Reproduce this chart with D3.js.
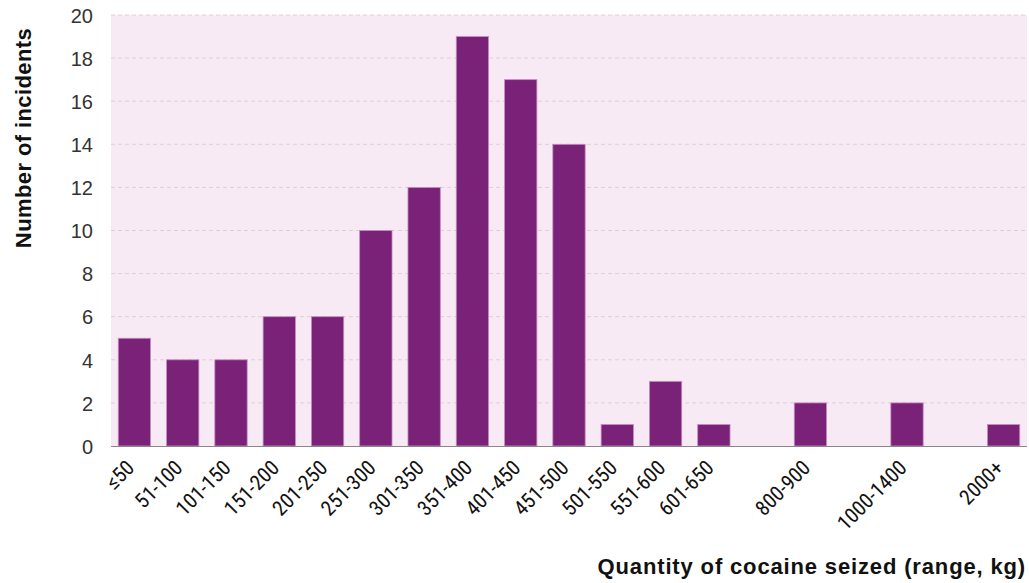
<!DOCTYPE html>
<html><head><meta charset="utf-8">
<script src="https://cdn.jsdelivr.net/npm/d3@7"></script>
<style>body{margin:0;background:#fff}svg{display:block}</style>
</head><body>
<svg id="c" width="1029" height="583"></svg>
<script>
const categories = ["≤50","51-100","101-150","151-200","201-250","251-300","301-350","351-400","401-450","451-500","501-550","551-600","601-650","gap1","800-900","gap2","1000-1400","gap3","2000+"];
const tickLabels = ["≤50","51-100","101-150","151-200","201-250","251-300","301-350","351-400","401-450","451-500","501-550","551-600","601-650","","800-900","","1000-1400","","2000+"];
const incidents = [5,4,4,6,6,10,12,19,17,14,1,3,1,null,2,null,2,null,1];
const yTicks = [0,2,4,6,8,10,12,14,16,18,20];

const svg = d3.select("#c");
const m = {l:111, r:1027, t:15, b:446};
const x = d3.scaleBand().domain(categories).range([m.l, m.r]).paddingInner(0.33).paddingOuter(0.15);
const y = d3.scaleLinear().domain([0,20]).range([m.b, m.t]);

svg.append("rect").attr("x", m.l).attr("y", m.t).attr("width", m.r-m.l).attr("height", m.b-m.t).attr("fill", "#f8eaf4");

svg.append("g").selectAll("line").data(yTicks.filter(d=>d>0)).join("line")
  .attr("x1", m.l).attr("x2", m.r).attr("y1", d=>y(d)).attr("y2", d=>y(d))
  .attr("stroke", "#dcd0d8").attr("stroke-width", 1).attr("stroke-dasharray", "4,3");

const data = categories.map((c,i)=>({c, v:incidents[i]})).filter(d=>d.v!=null);
svg.append("g").selectAll("rect").data(data).join("rect")
  .attr("x", d=>x(d.c)).attr("width", x.bandwidth())
  .attr("y", d=>y(d.v)).attr("height", d=>y(0)-y(d.v))
  .attr("fill", "#7a2278").attr("stroke", "#c78fc2").attr("stroke-width", 0.8);

// y axis
const ya = svg.append("g").attr("transform", `translate(${m.l},0)`)
  .call(d3.axisLeft(y).tickValues(yTicks).tickSize(0).tickPadding(18));
ya.select(".domain").remove();
ya.selectAll("text").attr("font-family", "'Liberation Sans', Arial, sans-serif").attr("font-size", 20).attr("fill", "#333").attr("dy", "0.36em");

// x axis
const xa = svg.append("g").attr("transform", `translate(0,${m.b})`)
  .call(d3.axisBottom(x).tickSize(0).tickFormat((d,i)=>tickLabels[i]));
xa.select(".domain").attr("stroke", "#888").attr("stroke-width", 1.2).attr("d", `M${m.l},0.5H${m.r}`);
xa.selectAll("text")
  .attr("font-family", "'Liberation Sans Narrow', 'Roboto Condensed', 'DejaVu Sans Condensed', sans-serif")
  .attr("font-size", 21).attr("fill", "#111")
  .attr("text-anchor", "end").attr("dy", "0.35em")
  .attr("transform", "translate(-4,18) rotate(-45)").attr("x", 0).attr("y", 0);

svg.append("text").attr("transform", "translate(31,138) rotate(-90)")
  .attr("text-anchor", "middle").attr("font-family", "'Liberation Sans', Arial, sans-serif")
  .attr("font-weight", "bold").attr("font-size", 22).attr("letter-spacing", 0.4).attr("fill", "#111").text("Number of incidents");

svg.append("text").attr("x", 1026).attr("y", 574)
  .attr("text-anchor", "end").attr("font-family", "'Liberation Sans', Arial, sans-serif")
  .attr("font-weight", "bold").attr("font-size", 22).attr("letter-spacing", 0.85).attr("fill", "#111").text("Quantity of cocaine seized (range, kg)");
</script>
</body></html>
